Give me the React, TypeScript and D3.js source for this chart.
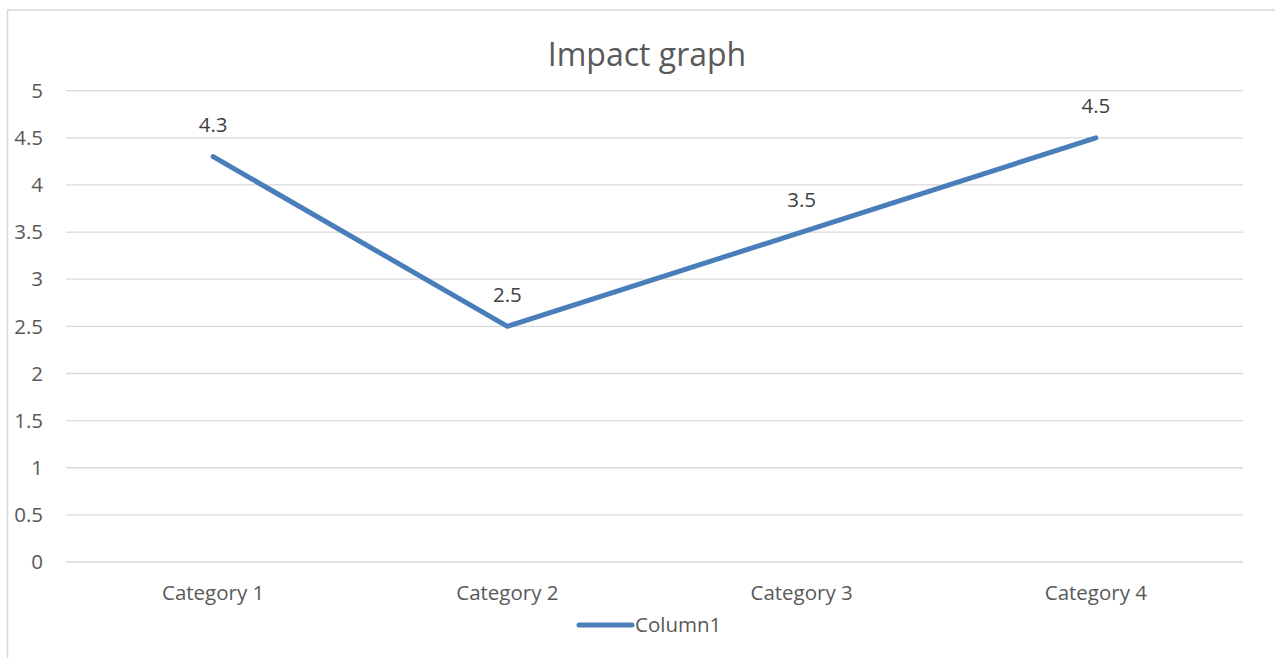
import React from "react";
import * as d3 from "d3";

const categories = ["Category 1", "Category 2", "Category 3", "Category 4"];
const values = [4.3, 2.5, 3.5, 4.5];
const yTicks = [0, 0.5, 1, 1.5, 2, 2.5, 3, 3.5, 4, 4.5, 5];
const seriesName = "Column1";
const title = "Impact graph";

const W = 1275;
const H = 658;
const FONT = "'Open Sans', 'Noto Sans', 'Liberation Sans', sans-serif";
const TEXT = "#595959";
const LINE = "#4a7ebb";
const FS = 20.5;

export default function App() {
  const x = d3.scaleBand<string>().domain(categories).range([66, 1243]);
  const y = d3.scaleLinear().domain([0, 5]).range([562, 90.7]);
  const line = d3
    .line<number>()
    .x((_, i) => (x(categories[i]) as number) + x.bandwidth() / 2)
    .y((d) => y(d));

  return (
    <svg
      width={W}
      height={H}
      style={{ position: "absolute", left: 0, top: 0, display: "block" }}
    >
      <rect x={0} y={0} width={W} height={H} fill="#fff" />
      <rect x={7.5} y={10} width={W + 20} height={H + 20} fill="#fff" stroke="#d9d9d9" strokeWidth={1.5} />
      <text x={647} y={65.5} textAnchor="middle" fontFamily={FONT} fontSize={32} fill={TEXT}>
        {title}
      </text>
      {yTicks.map((t) => (
        <g key={t}>
          <line x1={66} x2={1243} y1={y(t)} y2={y(t)} stroke="#d9d9d9" strokeWidth={1.3} />
          <text x={43} y={y(t)} dy="0.35em" textAnchor="end" fontFamily={FONT} fontSize={FS} fill={TEXT}>
            {t}
          </text>
        </g>
      ))}
      {categories.map((c) => (
        <text
          key={c}
          x={(x(c) as number) + x.bandwidth() / 2}
          y={593}
          dy="0.35em"
          textAnchor="middle"
          fontFamily={FONT}
          fontSize={FS}
          fill={TEXT}
        >
          {c}
        </text>
      ))}
      <path d={line(values) || ""} fill="none" stroke={LINE} strokeWidth={5} strokeLinejoin="round" strokeLinecap="round" />
      {values.map((v, i) => (
        <text
          key={i}
          x={(x(categories[i]) as number) + x.bandwidth() / 2}
          y={y(v) - 32}
          dy="0.35em"
          textAnchor="middle"
          fontFamily={FONT}
          fontSize={FS}
          fill="#404040"
        >
          {v}
        </text>
      ))}
      <line x1={579} x2={632} y1={625} y2={625} stroke={LINE} strokeWidth={5} strokeLinecap="round" />
      <text x={635} y={625} dy="0.35em" fontFamily={FONT} fontSize={FS} fill={TEXT}>
        {seriesName}
      </text>
    </svg>
  );
}
